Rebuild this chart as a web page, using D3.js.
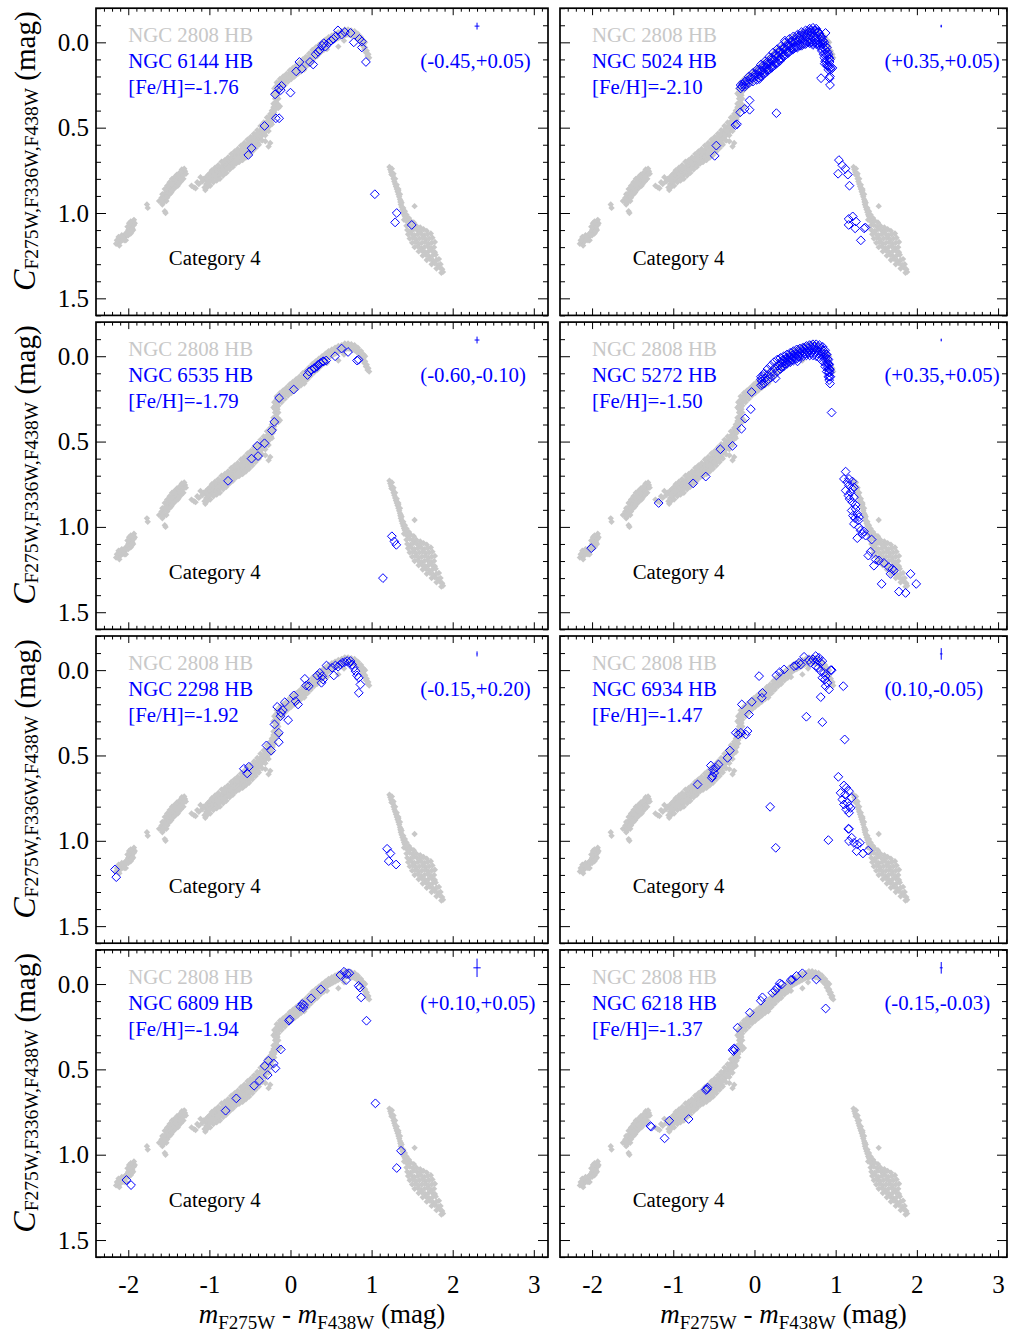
<!DOCTYPE html>
<html><head><meta charset="utf-8">
<script src="https://cdn.jsdelivr.net/npm/d3@7"></script>
<style>
body{margin:0;background:#fff}
svg{display:block}
text{font-family:"Liberation Serif","Times New Roman",serif}
</style></head>
<body><svg id="c" width="1009" height="1334"></svg>
<script>
// ---------------- DATA ----------------
// NGC 2808 HB reference sequence (grey)
const grey2808 = [
[-2.15,1.18],[-2.13,1.17],[-2.12,1.16],[-2.10,1.17],[-2.09,1.15],[-2.08,1.16],[-2.07,1.14],[-2.06,1.15],[-2.05,1.13],[-2.04,1.14],[-2.03,1.12],[-2.02,1.13],[-2.01,1.11],[-2.00,1.10],[-1.99,1.09],[-1.98,1.11],[-1.97,1.08],[-1.96,1.07],[-1.95,1.06],[-1.95,1.09],[-1.94,1.05],[-1.93,1.07],[-1.94,1.10],[-1.92,1.06],[-1.97,1.12],[-2.11,1.19],[-2.03,1.16],
[-2.12,1.14],[-2.08,1.13],[-2.05,1.16],[-2.00,1.13],[-1.96,1.11],[-1.99,1.06],[-1.93,1.04],[-2.14,1.16],[-2.01,1.08],[-1.97,1.05],
[-1.77,0.95],[-1.76,0.97],[-1.62,0.93],[-1.55,0.99],[-1.54,1.00],
[-1.60,0.93],[-1.59,0.91],[-1.57,0.92],[-1.56,0.90],[-1.55,0.89],[-1.54,0.88],[-1.53,0.90],[-1.52,0.87],[-1.51,0.86],[-1.50,0.88],[-1.50,0.85],[-1.49,0.86],[-1.48,0.84],[-1.47,0.85],[-1.46,0.83],[-1.45,0.84],[-1.44,0.82],[-1.43,0.83],[-1.42,0.81],[-1.41,0.82],[-1.40,0.80],[-1.39,0.81],[-1.38,0.79],[-1.37,0.80],[-1.36,0.78],[-1.35,0.79],[-1.34,0.77],[-1.33,0.78],[-1.32,0.76],[-1.31,0.77],[-1.30,0.755],[-1.29,0.77],[-1.44,0.86],[-1.47,0.88],[-1.58,0.95],[-1.53,0.93],[-1.38,0.83],
[-1.58,0.89],[-1.55,0.86],[-1.52,0.84],[-1.49,0.82],[-1.46,0.80],[-1.43,0.79],[-1.40,0.775],[-1.37,0.765],[-1.34,0.745],[-1.31,0.74],[-1.57,0.94],[-1.52,0.91],[-1.49,0.89],[-1.46,0.87],[-1.42,0.85],[-1.39,0.84],[-1.35,0.815],[-1.32,0.80],
[-1.19,0.85],[-1.17,0.855],[-1.15,0.82],[-1.13,0.83],[-1.11,0.79],[-1.09,0.815],[-1.07,0.80],[-1.05,0.865],[-1.03,0.835],[-1.01,0.82],[-1.22,0.84],[-1.06,0.85],
[-1.04,0.81],[-1.04,0.79],[-1.04,0.83],[-1.02,0.80],[-1.02,0.78],[-1.00,0.80],[-1.00,0.82],[-1.00,0.77],[-0.98,0.79],[-0.98,0.81],[-0.96,0.78],[-0.96,0.80],[-0.96,0.76],[-0.94,0.785],[-0.94,0.76],[-0.92,0.77],[-0.92,0.79],[-0.92,0.75],[-0.90,0.77],[-0.90,0.745],[-0.88,0.76],[-0.88,0.78],[-0.88,0.74],[-0.86,0.755],[-0.86,0.735],[-0.86,0.77],[-0.84,0.745],[-0.84,0.725],[-0.82,0.735],[-0.82,0.755],[-0.82,0.715],[-0.80,0.725],[-0.80,0.745],[-0.80,0.705],[-0.78,0.72],[-0.78,0.70],[-0.78,0.74],[-0.76,0.71],[-0.76,0.73],[-0.76,0.69],[-0.74,0.70],[-0.74,0.72],[-0.74,0.68],[-0.72,0.69],[-0.72,0.71],[-0.72,0.67],[-0.70,0.68],[-0.70,0.70],[-0.70,0.66],[-0.70,0.715],[-0.68,0.675],[-0.68,0.695],[-0.68,0.655],[-0.66,0.67],[-0.66,0.69],[-0.66,0.65],[-0.64,0.66],[-0.64,0.68],[-0.64,0.64],[-0.64,0.70],[-0.62,0.655],[-0.62,0.675],[-0.62,0.635],[-0.60,0.645],[-0.60,0.665],[-0.60,0.625],[-0.60,0.685],[-0.58,0.64],[-0.58,0.66],[-0.58,0.62],[-0.56,0.63],[-0.56,0.65],[-0.56,0.61],[-0.56,0.67],[-0.54,0.62],[-0.54,0.64],[-0.54,0.60],[-0.52,0.61],[-0.52,0.63],[-0.52,0.59],[-0.52,0.65],[-0.50,0.60],[-0.50,0.62],[-0.50,0.58],[-0.48,0.59],[-0.48,0.61],[-0.48,0.57],[-0.48,0.63],[-0.46,0.58],[-0.46,0.60],[-0.46,0.56],[-0.44,0.57],[-0.44,0.59],[-0.44,0.55],[-0.44,0.61],[-0.42,0.56],[-0.42,0.58],[-0.42,0.54],[-0.40,0.55],[-0.40,0.57],[-0.40,0.53],[-0.40,0.59],[-0.38,0.54],[-0.38,0.56],[-0.38,0.52],[-0.36,0.53],[-0.36,0.55],[-0.36,0.51],[-0.34,0.52],[-0.34,0.54],[-0.34,0.50],[-0.32,0.51],[-0.32,0.53],[-0.32,0.49],[-0.30,0.50],[-0.30,0.52],[-0.30,0.48],[-0.28,0.48],[-0.28,0.50],[-0.28,0.46],[-0.26,0.47],[-0.26,0.49],[-0.26,0.45],[-0.24,0.45],[-0.24,0.47],[-0.24,0.43],[-0.22,0.43],[-0.22,0.45],[-0.22,0.41],[-0.20,0.41],[-0.20,0.43],[-0.20,0.39],[-0.19,0.37],[-0.18,0.35],[-0.18,0.39],[-0.17,0.33],[-0.16,0.36],[-0.16,0.31],
[-1.03,0.85],[-0.99,0.84],[-0.95,0.82],[-0.91,0.81],[-0.87,0.80],[-0.83,0.78],[-0.79,0.765],[-0.75,0.745],[-0.71,0.73],[-0.67,0.71],[-0.63,0.70],[-0.59,0.69],[-0.55,0.675],[-0.51,0.66],[-0.47,0.64],[-0.43,0.62],[-0.39,0.60],[-0.35,0.575],[-0.31,0.545],[-0.27,0.52],[-0.23,0.48],
[-0.97,0.75],[-0.93,0.735],[-0.89,0.72],[-0.85,0.70],[-0.81,0.69],[-0.77,0.675],[-0.73,0.655],[-0.69,0.64],[-0.65,0.625],[-0.61,0.605],[-0.57,0.59],[-0.53,0.57],[-0.49,0.555],[-0.45,0.535],[-0.41,0.515],[-0.37,0.49],[-0.33,0.47],[-0.29,0.44],[-0.25,0.42],[-0.21,0.38],
[-0.27,0.61],[-0.25,0.59],[-0.31,0.58],[-0.15,0.385],[-0.13,0.375],
[-0.23,0.40],[-0.21,0.36],[-0.19,0.33],[-0.17,0.30],[-0.15,0.33],
[-0.21,0.30],[-0.20,0.27],[-0.19,0.29],[-0.18,0.26],[-0.17,0.28],[-0.16,0.25],[-0.15,0.27],[-0.14,0.24],[-0.13,0.26],[-0.12,0.23],[-0.11,0.25],[-0.10,0.22],[-0.09,0.24],[-0.08,0.215],[-0.07,0.23],[-0.06,0.20],[-0.05,0.22],[-0.04,0.195],[-0.03,0.21],[-0.02,0.185],[-0.01,0.20],[0.00,0.175],[0.01,0.195],[0.02,0.17],[0.03,0.19],[0.04,0.16],[0.05,0.18],[0.06,0.155],[0.07,0.17],[0.08,0.145],[0.09,0.165],[0.10,0.14],[0.11,0.16],[0.12,0.13],[0.13,0.15],[0.14,0.125],[0.15,0.145],[0.16,0.115],[0.17,0.135],[0.18,0.105],[0.19,0.125],[0.20,0.10],[0.21,0.12],[0.22,0.09],[0.23,0.11],[0.24,0.08],[0.25,0.10],[0.26,0.07],[0.27,0.09],[0.28,0.06],[0.29,0.08],[0.30,0.055],[0.31,0.075],[0.32,0.045],[0.33,0.065],[0.34,0.035],[0.35,0.055],[0.36,0.025],[0.37,0.045],[0.38,0.015],[0.39,0.035],[0.40,0.01],[0.41,0.03],[0.42,0.0],[0.43,0.02],[0.44,-0.005],[0.45,0.015],[0.46,-0.015],[0.47,0.005],[0.48,-0.02],[0.49,0.0],[0.50,-0.025],[0.51,-0.005],[0.52,-0.03],[0.53,-0.01],[0.54,-0.035],[0.55,-0.015],[0.56,-0.04],[0.57,-0.02],[0.58,-0.045],[0.59,-0.025],[0.60,-0.05],[0.61,-0.03],[0.62,-0.055],[0.63,-0.035],[0.64,-0.06],[0.65,-0.04],[0.66,-0.06],[0.67,-0.04],[0.68,-0.065],[0.69,-0.045],[0.70,-0.065],[0.71,-0.045],[0.72,-0.065],[0.73,-0.045],[0.74,-0.06],[0.75,-0.04],[0.76,-0.06],[0.77,-0.04],[0.78,-0.055],[0.79,-0.035],[0.80,-0.05],[0.81,-0.03],[0.82,-0.045],[0.83,-0.02],[0.84,-0.035],[0.85,-0.01],[0.86,-0.02],[0.87,0.0],[0.88,-0.005],[0.89,0.02],[0.90,0.01],[0.91,0.04],[0.92,0.03],[0.93,0.06],[0.94,0.05],[0.95,0.08],[0.96,0.07],[0.97,0.09],
[-0.19,0.31],[-0.15,0.29],[-0.11,0.27],[-0.07,0.25],[-0.03,0.23],[0.01,0.215],[0.05,0.20],[0.09,0.185],[0.13,0.17],[0.17,0.15],[0.21,0.135],[0.25,0.115],[0.29,0.095],[0.33,0.08],[0.37,0.06],[0.41,0.045],
[-0.17,0.235],[-0.13,0.215],[-0.09,0.20],[-0.05,0.185],[-0.01,0.165],[0.03,0.15],[0.07,0.135],[0.11,0.12],[0.15,0.10],[0.19,0.085],[0.23,0.065],[0.27,0.045],[0.31,0.03],[0.35,0.015],[0.39,0.0],[0.43,-0.015],[0.47,-0.03],[0.51,-0.04],[0.55,-0.05],[0.59,-0.06],[0.63,-0.065],[0.67,-0.075],[0.71,-0.075],[0.75,-0.07],[0.79,-0.065],[0.83,-0.05],[0.87,-0.03],[0.90,-0.01],[0.92,0.0],
[0.59,0.025],[0.45,0.04],[0.17,0.16],[0.66,-0.01],
[1.22,0.73],[1.23,0.745],[1.24,0.76],[1.245,0.775],[1.26,0.78],[1.27,0.80],[1.28,0.815],[1.29,0.83],[1.30,0.845],[1.31,0.86],[1.32,0.875],[1.33,0.89],[1.34,0.905],[1.35,0.92],[1.355,0.935],[1.36,0.95],[1.37,0.965],[1.38,0.98],[1.39,0.995],[1.40,1.01],[1.41,1.02],[1.42,1.03],[1.43,1.04],[1.44,1.05],[1.53,0.96],[1.33,0.87],[1.36,0.93],[1.39,0.97],
[1.25,0.74],[1.27,0.77],[1.29,0.80],[1.31,0.835],[1.33,0.86],[1.35,0.89],[1.37,0.94],[1.41,0.99],[1.43,1.01],[1.46,1.03],[1.40,1.04],
[1.44,1.05],[1.48,1.045],[1.52,1.055],
[1.43,1.075],[1.47,1.07],[1.51,1.08],[1.55,1.075],[1.60,1.085],
[1.44,1.10],[1.48,1.105],[1.52,1.095],[1.56,1.10],[1.60,1.105],[1.64,1.095],[1.68,1.105],
[1.45,1.125],[1.49,1.12],[1.53,1.13],[1.57,1.125],[1.61,1.12],[1.65,1.13],[1.69,1.125],[1.73,1.12],
[1.47,1.15],[1.51,1.145],[1.55,1.155],[1.59,1.15],[1.63,1.145],[1.67,1.155],[1.71,1.15],[1.75,1.145],
[1.50,1.175],[1.54,1.17],[1.58,1.18],[1.62,1.175],[1.66,1.17],[1.70,1.18],[1.74,1.175],[1.78,1.17],
[1.53,1.20],[1.57,1.195],[1.61,1.205],[1.65,1.20],[1.69,1.195],[1.73,1.205],[1.77,1.20],
[1.58,1.225],[1.62,1.22],[1.66,1.23],[1.70,1.225],[1.74,1.22],[1.78,1.23],
[1.63,1.25],[1.67,1.245],[1.71,1.255],[1.75,1.25],[1.79,1.245],
[1.68,1.275],[1.72,1.27],[1.76,1.28],[1.80,1.275],[1.83,1.27],
[1.74,1.30],[1.78,1.295],[1.82,1.305],[1.85,1.30],
[1.80,1.325],[1.84,1.32],[1.87,1.33],
[1.86,1.35],[1.88,1.345]
];

const ngc6144 = [[-0.52,0.66],[-0.48,0.62],[-0.32,0.49],[-0.19,0.305],[-0.14,0.27],[-0.11,0.255],[-0.12,0.28],[-0.18,0.445],[-0.14,0.445],[0.00,0.295],[0.07,0.17],[0.11,0.115],[0.14,0.155],[0.24,0.115],[0.28,0.13],[0.31,0.07],[0.34,0.055],[0.36,0.045],[0.39,0.02],[0.41,0.005],[0.43,0.025],[0.47,0.005],[0.50,-0.01],[0.53,-0.02],[0.56,-0.035],[0.585,-0.07],[0.63,-0.045],[0.67,-0.06],[0.74,-0.055],[0.78,0.0],[0.85,-0.02],[0.88,-0.005],[0.88,0.03],[0.93,0.115],[1.04,0.89],[1.31,1.0],[1.29,1.055],[1.495,1.07]];

const ngc5024 = [
[-0.17,0.25],[-0.155,0.26],[-0.17,0.27],[-0.12,0.23],[-0.105,0.245],[-0.12,0.26],[-0.07,0.20],[-0.055,0.22],[-0.07,0.24],[-0.02,0.18],[-0.005,0.205],[-0.02,0.23],[0.03,0.16],[0.045,0.19],[0.03,0.22],[0.08,0.13],[0.095,0.165],[0.08,0.20],[0.13,0.11],[0.145,0.145],[0.13,0.18],[0.18,0.085],[0.195,0.12],[0.18,0.16],[0.23,0.06],[0.245,0.10],[0.23,0.14],[0.28,0.04],[0.295,0.08],[0.28,0.12],[0.33,0.02],[0.345,0.06],[0.33,0.095],[0.38,0.0],[0.395,0.04],[0.38,0.075],[0.43,-0.02],[0.445,0.02],[0.43,0.055],[0.48,-0.035],[0.495,0.0],[0.48,0.04],[0.53,-0.045],[0.545,-0.01],[0.53,0.03],[0.58,-0.06],[0.595,-0.02],[0.58,0.02],[0.63,-0.07],[0.645,-0.03],[0.63,0.01],[0.68,-0.08],[0.695,-0.04],[0.68,0.005],[0.72,-0.085],[0.735,-0.04],[0.72,0.005],[0.76,-0.08],[0.775,-0.035],[0.76,0.01],[0.80,-0.05],[0.815,-0.015],[0.80,0.02],[0.83,-0.03],[0.845,0.01],[0.83,0.05],[0.86,0.0],[0.875,0.045],[0.86,0.09],[0.89,0.03],[0.905,0.08],[0.89,0.13],[0.91,0.07],[0.925,0.115],[0.91,0.16],[0.93,0.10],[0.94,0.15],[0.93,0.20],
[0.055,0.175],[0.055,0.205],[0.105,0.15],[0.105,0.18],[0.155,0.13],[0.155,0.16],[0.205,0.105],[0.205,0.14],[0.255,0.08],[0.255,0.12],[0.305,0.06],[0.305,0.10],[0.355,0.04],[0.355,0.075],[0.405,0.02],[0.405,0.055],[0.455,0.0],[0.455,0.035],[0.505,-0.015],[0.505,0.02],[0.555,-0.025],[0.555,0.01],[0.605,-0.04],[0.605,0.0],[0.655,-0.05],[0.655,-0.01],[0.70,-0.06],[0.70,-0.015],[0.74,-0.065],[0.74,-0.015],[0.78,-0.06],[0.78,-0.01],[0.815,-0.035],[0.815,0.005],[0.845,-0.01],[0.845,0.03],[0.875,0.02],[0.875,0.07],[0.90,0.055],[0.90,0.105],[0.92,0.09],[0.92,0.14],
[-0.14,0.245],[-0.09,0.225],[-0.04,0.205],[0.01,0.185],[0.06,0.16],[0.11,0.135],[0.16,0.115],[0.21,0.09],[0.26,0.07],[0.31,0.05],[0.36,0.03],[0.41,0.01],[0.46,-0.01],[0.51,-0.025],[0.56,-0.04],[0.61,-0.05],[0.66,-0.06],[0.70,-0.07],[0.745,-0.07],[0.79,-0.06],
[0.06,0.215],[0.11,0.19],[0.16,0.17],[0.21,0.15],[0.26,0.13],[0.31,0.11],[0.36,0.085],[0.41,0.065],[0.46,0.045],[0.51,0.03],[0.56,0.02],[0.61,0.01],[0.66,0.0],[0.70,0.0],[0.75,0.0],[0.79,0.01],[0.82,0.035],[0.85,0.07],[0.87,0.11],[0.90,0.14],
[-0.06,0.34],[-0.06,0.395],[-0.12,0.39],[-0.175,0.41],[-0.235,0.485],[-0.215,0.48],[0.27,0.415],[-0.47,0.605],[-0.49,0.665],[1.04,0.69],[1.08,0.72],[1.12,0.74],[1.03,0.77],[1.15,0.775],[1.17,0.84],[1.16,1.035],[1.21,1.02],[1.25,1.05],[1.16,1.07],[1.35,1.09],[1.365,1.085],[1.31,1.16],[1.24,1.09],[0.82,0.21],[0.925,0.21],[0.93,0.25],[0.94,0.16],[0.96,0.15],[0.865,0.125],[0.905,0.135],[0.875,-0.055],[0.375,-0.01],[0.72,0.015]
];

const ngc6535 = [[-0.77,0.73],[-0.48,0.60],[-0.40,0.585],[-0.41,0.525],[-0.32,0.51],[-0.23,0.435],[-0.20,0.385],[-0.14,0.245],[0.04,0.195],[0.21,0.11],[0.26,0.08],[0.30,0.07],[0.34,0.05],[0.40,0.03],[0.23,0.09],[0.29,0.07],[0.33,0.06],[0.37,0.04],[0.41,0.03],[0.44,0.025],[0.55,0.0],[0.63,-0.045],[0.71,-0.025],[0.82,0.025],[0.84,0.02],[1.25,1.055],[1.28,1.085],[1.305,1.105],[1.14,1.30]];

const ngc5272 = [
[0.08,0.12],[0.09,0.145],[0.08,0.17],[0.12,0.10],[0.13,0.13],[0.12,0.16],[0.16,0.075],[0.17,0.11],[0.16,0.14],[0.20,0.055],[0.21,0.09],[0.20,0.125],[0.24,0.035],[0.25,0.07],[0.24,0.11],[0.28,0.02],[0.29,0.055],[0.28,0.09],[0.32,0.01],[0.33,0.04],[0.32,0.075],[0.36,0.0],[0.37,0.03],[0.36,0.06],[0.40,-0.01],[0.41,0.02],[0.40,0.045],[0.44,-0.02],[0.45,0.01],[0.44,0.035],[0.48,-0.03],[0.49,0.0],[0.48,0.025],[0.52,-0.04],[0.53,-0.01],[0.52,0.015],[0.56,-0.045],[0.57,-0.02],[0.56,0.005],[0.60,-0.05],[0.61,-0.025],[0.60,0.0],[0.64,-0.06],[0.65,-0.03],[0.64,-0.005],[0.68,-0.065],[0.69,-0.035],[0.68,-0.005],[0.72,-0.07],[0.73,-0.04],[0.72,-0.005],[0.76,-0.07],[0.77,-0.035],[0.76,0.0],[0.80,-0.065],[0.81,-0.03],[0.80,0.01],[0.84,-0.055],[0.85,-0.01],[0.84,0.03],[0.87,-0.035],[0.88,0.01],[0.87,0.06],[0.89,-0.01],[0.90,0.04],[0.89,0.09],[0.91,0.02],[0.915,0.07],[0.91,0.12],[0.92,0.05],[0.925,0.095],[0.92,0.14],[0.93,0.08],[0.935,0.12],[0.93,0.16],
[0.34,0.025],[0.34,0.06],[0.38,0.015],[0.38,0.045],[0.42,0.005],[0.42,0.03],[0.46,-0.005],[0.46,0.02],[0.50,-0.015],[0.50,0.01],[0.54,-0.025],[0.54,0.0],[0.58,-0.03],[0.58,-0.01],[0.62,-0.04],[0.62,-0.015],[0.66,-0.045],[0.66,-0.02],[0.70,-0.05],[0.70,-0.02],[0.74,-0.055],[0.74,-0.02],[0.78,-0.05],[0.78,-0.015],[0.82,-0.045],[0.82,-0.01],[0.855,-0.03],[0.855,0.01],[0.88,-0.01],[0.88,0.04],[0.90,0.015],[0.90,0.065],[0.915,0.045],[0.915,0.095],[0.925,0.075],[0.925,0.12],
[-2.01,1.125],[-1.18,0.86],[-0.755,0.745],[-0.60,0.705],[-0.42,0.545],[-0.27,0.525],[-0.16,0.425],[-0.115,0.365],[-0.045,0.31],[-0.035,0.21],[0.10,0.165],[0.08,0.135],[0.105,0.115],[0.26,0.13],[0.53,0.03],[0.95,0.33],
[1.123,0.676],[1.102,0.719],[1.143,0.738],[1.164,0.758],[1.205,0.734],[1.225,0.768],[1.184,0.797],[1.123,0.787],[1.156,0.816],[1.225,0.826],[1.205,0.855],[1.246,0.871],[1.197,0.904],[1.266,0.924],[1.238,0.949],[1.279,0.963],[1.225,0.982],[1.287,1.002],[1.307,1.021],[1.328,1.041],[1.348,1.027],[1.266,1.066],[1.369,1.051],[1.443,1.074],[1.430,1.145],[1.402,1.168],[1.492,1.191],[1.471,1.227],[1.533,1.197],[1.594,1.211],[1.656,1.236],[1.697,1.246],[1.676,1.275],[1.717,1.256],[1.566,1.334],[1.779,1.379],[1.861,1.387],[1.922,1.275],[1.992,1.334],[1.164,0.719],[1.205,0.777],[1.172,0.836],[1.246,0.895],[1.213,0.934],[1.287,0.943]
];

const ngc2298 = [[-2.164,1.168],[-2.148,1.213],[-0.575,0.578],[-0.513,0.566],[-0.534,0.605],[-0.296,0.441],[-0.238,0.471],[-0.144,0.422],[-0.144,0.367],[-0.197,0.318],[-0.123,0.270],[-0.094,0.234],[-0.115,0.25],[-0.164,0.215],[-0.070,0.188],[-0.029,0.293],[0.041,0.148],[0.062,0.182],[0.094,0.201],[0.177,0.051],[0.193,0.090],[0.226,0.094],[0.329,0.031],[0.361,0.016],[0.39,0.035],[0.382,0.074],[0.402,0.055],[0.444,-0.027],[0.513,-0.014],[0.534,0.031],[0.554,-0.027],[0.587,-0.020],[0.616,-0.033],[0.637,-0.043],[0.669,-0.047],[0.698,-0.053],[0.719,-0.043],[0.739,-0.053],[0.760,-0.033],[0.780,-0.014],[0.801,0.006],[0.821,0.031],[0.842,0.045],[0.862,0.084],[0.842,0.133],[1.191,1.047],[1.232,1.074],[1.211,1.119],[1.302,1.139]];

const ngc6934 = [[-0.701,0.670],[-0.537,0.559],[-0.508,0.582],[-0.475,0.572],[-0.516,0.621],[-0.525,0.631],[-0.443,0.553],[-0.496,0.602],[-0.332,0.514],[-0.303,0.471],[-0.230,0.367],[-0.201,0.377],[-0.168,0.367],[-0.086,0.357],[-0.107,0.377],[-0.066,0.260],[-0.156,0.201],[-0.033,0.186],[0.090,0.162],[0.098,0.133],[0.057,0.035],[0.270,0.031],[0.311,0.012],[0.365,-0.004],[0.488,-0.023],[0.516,-0.027],[0.549,-0.043],[0.570,-0.033],[0.611,-0.078],[0.672,-0.059],[0.693,-0.043],[0.721,-0.063],[0.754,-0.082],[0.775,-0.059],[0.795,-0.072],[0.816,-0.043],[0.836,-0.053],[0.754,-0.023],[0.787,-0.014],[0.816,0.006],[0.857,0.016],[0.877,0.035],[0.836,0.045],[0.869,0.055],[0.898,0.074],[0.877,0.094],[0.918,0.113],[0.939,0.0],[0.951,0.0],[0.816,0.158],[1.094,0.094],[0.639,0.273],[0.836,0.305],[1.111,0.406],[1.033,0.625],[1.102,0.676],[1.131,0.689],[1.061,0.719],[1.115,0.729],[1.164,0.709],[1.082,0.758],[1.197,0.748],[1.143,0.777],[1.102,0.787],[1.164,0.797],[1.131,0.816],[1.184,0.807],[1.164,0.836],[1.156,0.930],[1.164,0.930],[1.197,0.982],[1.164,1.002],[1.225,1.012],[1.266,1.021],[1.299,1.012],[1.258,1.061],[1.336,1.074],[1.402,1.057],[0.910,0.996],[0.193,0.801],[0.262,1.041]];

const ngc6809 = [[-2.023,1.148],[-1.966,1.178],[-0.800,0.742],[-0.668,0.670],[-0.449,0.596],[-0.383,0.566],[-0.317,0.480],[-0.273,0.449],[-0.207,0.465],[-0.185,0.494],[-0.281,0.533],[-0.119,0.383],[-0.018,0.215],[-0.009,0.207],[0.123,0.133],[0.145,0.117],[0.167,0.123],[0.158,0.139],[0.255,0.084],[0.374,0.031],[0.616,-0.053],[0.660,-0.072],[0.695,-0.059],[0.726,-0.063],[0.686,-0.023],[0.840,0.010],[0.857,0.021],[0.871,0.078],[0.937,0.215],[1.047,0.699],[1.363,0.977],[1.310,1.078]];

const ngc6218 = [[-1.283,0.832],[-1.270,0.836],[-1.049,0.801],[-1.107,0.904],[-0.811,0.791],[-0.598,0.621],[-0.578,0.607],[-0.586,0.617],[-0.270,0.387],[-0.250,0.377],[-0.258,0.393],[-0.242,0.383],[-0.209,0.256],[-0.057,0.168],[0.078,0.098],[0.098,0.078],[0.221,0.051],[0.254,0.039],[0.283,0.020],[0.311,-0.004],[0.336,0.002],[0.447,-0.023],[0.467,-0.027],[0.516,-0.047],[0.590,-0.063],[0.762,-0.027],[0.877,0.143]];

const clusterNames = ["NGC 6144 HB","NGC 5024 HB","NGC 6535 HB","NGC 5272 HB","NGC 2298 HB","NGC 6934 HB","NGC 6809 HB","NGC 6218 HB"];
const fehLabels = ["[Fe/H]=-1.76","[Fe/H]=-2.10","[Fe/H]=-1.79","[Fe/H]=-1.50","[Fe/H]=-1.92","[Fe/H]=-1.47","[Fe/H]=-1.94","[Fe/H]=-1.37"];
const shiftLabels = ["(-0.45,+0.05)","(+0.35,+0.05)","(-0.60,-0.10)","(+0.35,+0.05)","(-0.15,+0.20)","(0.10,-0.05)","(+0.10,+0.05)","(-0.15,-0.03)"];
const errX = [0.03,0.01,0.03,0.006,0.005,0.016,0.045,0.018];
const errY = [0.02,0.008,0.02,0.008,0.015,0.034,0.054,0.034];
const refLabel = "NGC 2808 HB";
const categoryLabel = "Category 4";
const xTicks = [-2,-1,0,1,2,3];
const yTicks = [0,0.5,1.0,1.5];
const yTickLabels = ["0.0","0.5","1.0","1.5"];

// ---------------- LAYOUT ----------------
const GREY = "#c8c8c8", BLUE = "#0000ff";
const colRange = [[96,548],[560,1007]];
const colDomain = [[-2.398,3.175],[-2.395,3.11]];
const rowTop = r => 8.2 + 313.9*r;
const rowH = 307.2;
const yDomain = [-0.2,1.6];
const blueSets = [ngc6144,ngc5024,ngc6535,ngc5272,ngc2298,ngc6934,ngc6809,ngc6218];

const svg = d3.select("#c");
const greyShape = "M0,-3.2L3.2,0L0,3.2L-3.2,0Z";
const blueShape = "M0,-4.4L4.4,0L0,4.4L-4.4,0Z";

const xMinor = d3.range(-23,32).map(v=>v/10).filter(v=>Math.abs(v-Math.round(v))>1e-6);
const yMinor = d3.range(-2,17).map(v=>v/10).filter(v=>Math.abs(v*2-Math.round(v*2))>1e-6);

for (let i=0;i<8;i++){
  const r = Math.floor(i/2), c = i%2;
  const x = d3.scaleLinear().domain(colDomain[c]).range(colRange[c]);
  const y = d3.scaleLinear().domain(yDomain).range([rowTop(r), rowTop(r)+rowH]);
  const g = svg.append("g");
  const xd = x.domain();
  const xMin = xMinor.filter(v=>v>xd[0]&&v<xd[1]);

  g.append("g").selectAll("path").data(grey2808).join("path")
    .attr("d",greyShape).attr("fill",GREY)
    .attr("transform",d=>`translate(${x(d[0])},${y(d[1])})`);
  g.append("g").selectAll("path").data(blueSets[i]).join("path")
    .attr("d",blueShape).attr("fill","none").attr("stroke",BLUE).attr("stroke-width",1)
    .attr("transform",d=>`translate(${x(d[0])},${y(d[1])})`);

  // error bar
  const ex=2.3, ey=-0.095;
  g.append("line").attr("x1",x(ex-errX[i])).attr("x2",x(ex+errX[i])).attr("y1",y(ey)).attr("y2",y(ey)).attr("stroke",BLUE).attr("stroke-width",1);
  g.append("line").attr("x1",x(ex)).attr("x2",x(ex)).attr("y1",y(ey-errY[i])).attr("y2",y(ey+errY[i])).attr("stroke",BLUE).attr("stroke-width",1);

  // texts
  const fs = 20.8;
  g.append("text").attr("x",x(-2.0)).attr("y",y(0.0)).attr("font-size",fs).attr("fill",GREY).text(refLabel);
  g.append("text").attr("x",x(-2.0)).attr("y",y(0.152)).attr("font-size",fs).attr("fill",BLUE).text(clusterNames[i]);
  g.append("text").attr("x",x(-2.0)).attr("y",y(0.305)).attr("font-size",fs).attr("fill",BLUE).text(fehLabels[i]);
  g.append("text").attr("x",x(1.6)).attr("y",y(0.152)).attr("font-size",fs).attr("fill",BLUE).text(shiftLabels[i]);
  g.append("text").attr("x",x(-1.5)).attr("y",y(1.305)).attr("font-size",fs).attr("fill","#000").text(categoryLabel);

  // axes (ticks inward on all four sides)
  const top = rowTop(r), bot = rowTop(r)+rowH, lft = colRange[c][0], rgt = colRange[c][1];
  const styleAxis = sel => { sel.select(".domain").remove(); sel.selectAll("line").attr("stroke","#000").attr("stroke-width",1); };
  const isBottomRow = r===3, isLeftCol = c===0;

  const bx = g.append("g").attr("transform",`translate(0,${bot})`)
    .call(d3.axisBottom(x).tickValues(xTicks).tickSize(-7).tickPadding(18)
      .tickFormat(d=> isBottomRow ? String(d) : ""));
  styleAxis(bx);
  bx.selectAll("text").attr("font-size",25).attr("font-family","Liberation Serif, serif").attr("fill","#000");
  const bxm = g.append("g").attr("transform",`translate(0,${bot})`).call(d3.axisBottom(x).tickValues(xMin).tickSize(-3.5).tickFormat(""));
  styleAxis(bxm);
  const tx = g.append("g").attr("transform",`translate(0,${top})`).call(d3.axisTop(x).tickValues(xTicks).tickSize(-7).tickFormat(""));
  styleAxis(tx);
  const txm = g.append("g").attr("transform",`translate(0,${top})`).call(d3.axisTop(x).tickValues(xMin).tickSize(-3.5).tickFormat(""));
  styleAxis(txm);

  const ly = g.append("g").attr("transform",`translate(${lft},0)`)
    .call(d3.axisLeft(y).tickValues(yTicks).tickSize(-10).tickPadding(7)
      .tickFormat((d,k)=> isLeftCol ? yTickLabels[k] : ""));
  styleAxis(ly);
  ly.selectAll("text").attr("font-size",25).attr("font-family","Liberation Serif, serif").attr("fill","#000");
  const lym = g.append("g").attr("transform",`translate(${lft},0)`).call(d3.axisLeft(y).tickValues(yMinor).tickSize(-5).tickFormat(""));
  styleAxis(lym);
  const ry = g.append("g").attr("transform",`translate(${rgt},0)`).call(d3.axisRight(y).tickValues(yTicks).tickSize(-10).tickFormat(""));
  styleAxis(ry);
  const rym = g.append("g").attr("transform",`translate(${rgt},0)`).call(d3.axisRight(y).tickValues(yMinor).tickSize(-5).tickFormat(""));
  styleAxis(rym);

  g.append("rect").attr("x",lft).attr("y",top).attr("width",rgt-lft).attr("height",bot-top)
    .attr("fill","none").attr("stroke","#000").attr("stroke-width",1.7);

  // y title
  if (isLeftCol){
    const cy = top + 143;
    const t = svg.append("text").attr("transform",`translate(35,${cy}) rotate(-90)`).attr("text-anchor","middle").attr("fill","#000");
    t.append("tspan").attr("font-style","italic").attr("font-size",32).text("C");
    t.append("tspan").attr("font-size",19.5).attr("dy",3).text("F275W,F336W,F438W");
    t.append("tspan").attr("font-size",29).attr("dy",-3).text(" (mag)");
  }
}

// x titles
[0,1].forEach(c=>{
  const cx = (colRange[c][0]+colRange[c][1])/2;
  const t = svg.append("text").attr("x",cx).attr("y",1323).attr("text-anchor","middle").attr("fill","#000");
  t.append("tspan").attr("font-style","italic").attr("font-size",27).text("m");
  t.append("tspan").attr("font-size",19).attr("dy",6).text("F275W");
  t.append("tspan").attr("font-size",27).attr("dy",-6).text(" - ");
  t.append("tspan").attr("font-style","italic").attr("font-size",27).text("m");
  t.append("tspan").attr("font-size",19).attr("dy",6).text("F438W");
  t.append("tspan").attr("font-size",27).attr("dy",-6).text(" (mag)");
});
</script>
</body></html>
